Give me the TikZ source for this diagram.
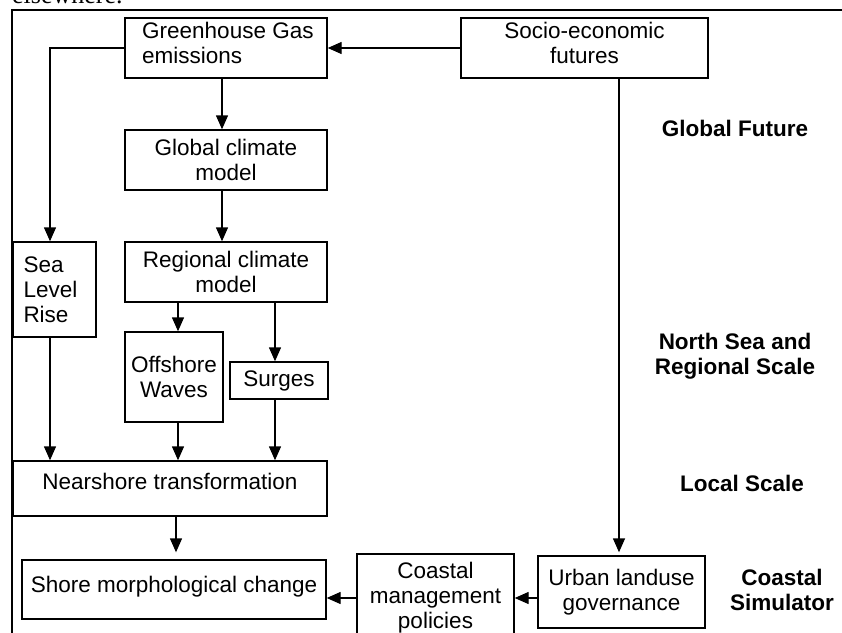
\documentclass[tikz,border=0pt]{standalone}
\usepackage{fontspec}
\setmainfont{Liberation Sans}
\newfontfamily\serifface{Liberation Serif}
\usetikzlibrary{arrows.meta}
\begin{document}
\begin{tikzpicture}[x=1pt,y=-1pt,
  box/.style={draw, line width=1.4pt, inner sep=0pt, font=\fontsize{22.5}{25}\selectfont, align=center},
  txt/.style={inner sep=0pt, font=\fontsize{22.5}{25}\selectfont, align=center},
  arr/.style={line width=1.4pt, -{Triangle[length=14pt,width=12pt]}},
  lbl/.style={inner sep=0pt, font=\fontsize{22.5}{25}\selectfont\bfseries, align=center}]
\useasboundingbox (0,0) rectangle (842,632);
% cut-off caption text at the very top
\node[inner sep=0pt, anchor=base west, font=\fontsize{26}{28}\serifface] (cap) at (12,3.5) {elsewhere.};
% frame
\draw[line width=2.2pt] (12,650) -- (12,10) -- (860,10);
% boxes
\node[box, minimum width=202pt, minimum height=60pt] (ghg) at (226,48) {};
\node[txt, align=left, anchor=west] (ghgtxt) at (142,42.5) {Greenhouse Gas\\emissions};
\node[box, minimum width=247pt, minimum height=60pt] (socio) at (584.5,48) {};
\node[txt] (sociotxt) at (584.5,43) {Socio-economic\\futures};
\node[box, minimum width=202pt, minimum height=60pt] (gcm) at (226,160) {Global climate\\model};
\node[box, minimum width=202pt, minimum height=60pt] (rcm) at (226,272) {Regional climate\\model};
\node[box, align=left, text width=62pt, minimum width=83pt, minimum height=95pt] (slr) at (54.5,289.5) {Sea\\Level\\Rise};
\node[box, minimum width=98pt, minimum height=90pt] (off) at (174,377) {Offshore\\Waves};
\node[box, minimum width=98pt, minimum height=37pt] (surg) at (279,380.5) {Surges};
\node[box, minimum width=314pt, minimum height=55pt] (near) at (170,488.5) {};
\node[txt] (neartxt) at (170,481) {Nearshore transformation};
\node[box, minimum width=304pt, minimum height=59pt] (shore) at (174,589.5) {};
\node[txt] (shoretxt) at (174,587) {Shore morphological change};
\node[box, minimum width=157pt, minimum height=88pt] (coast) at (435.5,598) {Coastal\\management\\policies};
\node[box, minimum width=167pt, minimum height=72pt] (urban) at (621.5,592) {Urban landuse\\governance};
% scale labels
\node[lbl] (lglobal) at (735,128) {Global Future};
\node[lbl] (lnorth) at (735,356) {North Sea and\\Regional Scale};
\node[lbl] (llocal) at (742,483) {Local Scale};
\node[lbl] (lcoast) at (782,590) {Coastal\\Simulator};
% x positions of vertical connectors
\coordinate (xa) at (222,0);
\coordinate (xb) at (178,0);
\coordinate (xc) at (275,0);
\coordinate (xd) at (50,0);
\coordinate (xe) at (176,0);
\coordinate (xf) at (619,0);
% connectors
\draw[arr] (socio.west) -- (ghg.east);
\draw[arr] (ghg.south -| xa) -- (gcm.north -| xa);
\draw[arr] (gcm.south -| xa) -- (rcm.north -| xa);
\draw[arr] (ghg.west) -| (slr.north -| xd);
\draw[arr] (rcm.south -| xb) -- (off.north -| xb);
\draw[arr] (rcm.south -| xc) -- (surg.north -| xc);
\draw[arr] (slr.south -| xd) -- (near.north -| xd);
\draw[arr] (off.south -| xb) -- (near.north -| xb);
\draw[arr] (surg.south -| xc) -- (near.north -| xc);
\draw[arr] (near.south -| xe) -- ([yshift=7pt]shore.north -| xe);
\draw[arr] (socio.south -| xf) -- ([yshift=3pt]urban.north -| xf);
\draw[arr] (urban.west |- coast.east) -- (coast.east);
\draw[arr] (coast.west) -- (coast.west -| shore.east);
\end{tikzpicture}
\end{document}
